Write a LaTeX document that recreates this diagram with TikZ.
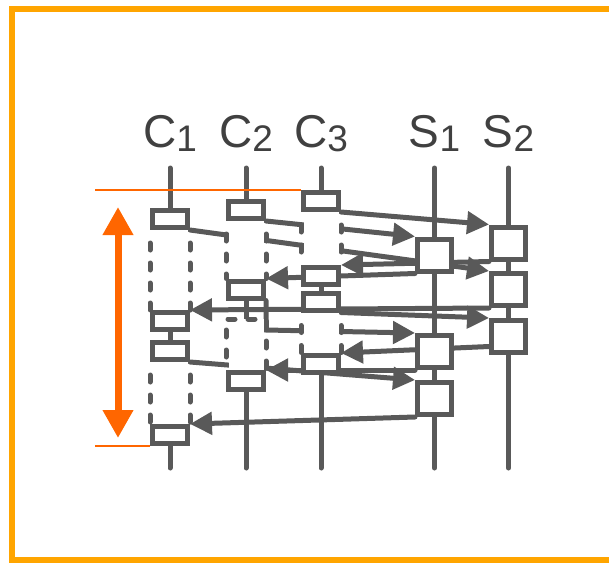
\documentclass[tikz,border=0pt]{standalone}
\usepackage{fontspec}
\setmainfont{Liberation Sans}
\usetikzlibrary{arrows.meta}

\pgfdeclarelayer{lines}
\pgfdeclarelayer{waits}
\pgfsetlayers{lines,waits,main}

\definecolor{linegray}{HTML}{595959}
\definecolor{textgray}{HTML}{404040}
\definecolor{spanorange}{HTML}{FF6600}
\definecolor{frameorange}{HTML}{FFA500}

% process name with a lowered index
\newcommand{\proclabel}[2]{#1\raisebox{-4.5pt}{\fontsize{37}{37}\selectfont #2}}

\tikzset{
  op/.style={draw=linegray, fill=white, line width=5pt, inner sep=0pt,
    minimum width=35pt, minimum height=17pt},
  srv/.style={op, minimum width=34pt, minimum height=32pt},
  life/.style={draw=linegray, line width=5pt, line cap=round},
  msg/.style={draw=linegray, line width=5pt, line cap=round,
    -{Triangle[length=22pt,width=22pt]}},
  waitedge/.style={draw=linegray, line width=5pt, line cap=round,
    dash pattern=on 7pt off 13pt, dash phase=7pt},
  proc/.style={text=textgray, font=\fontsize{46}{46}\selectfont,
    anchor=base, inner sep=0pt},
}

\begin{document}
\begin{tikzpicture}[x=1pt,y=-1pt]
\useasboundingbox (0,0) rectangle (609,562);

% process names
\node[proc] (C1) at (170,147) {\proclabel{C}{1}};
\node[proc] (C2) at (246,147) {\proclabel{C}{2}};
\node[proc] (C3) at (321,147) {\proclabel{C}{3}};
\node[proc] (S1) at (434.5,147) {\proclabel{S}{1}};
\node[proc] (S2) at (508.5,147) {\proclabel{S}{2}};

% operations on the clients
\node[op] (c1a) at (170,219) {};
\node[op] (c1b) at (170,321) {};
\node[op] (c1c) at (170,351) {};
\node[op] (c1d) at (170,435) {};
\node[op] (c2a) at (246,210) {};
\node[op] (c2b) at (246,289.5) {};
\node[op] (c2c) at (246,381) {};
\node[op] (c3a) at (321,201) {};
\node[op] (c3b) at (321,276) {};
\node[op] (c3c) at (321,301.5) {};
\node[op] (c3d) at (321,364) {};

% operations on the servers
\node[srv] (s1a) at (434.5,255) {};
\node[srv] (s1b) at (434.5,351.5) {};
\node[srv] (s1c) at (434.5,398.5) {};
\node[srv] (s2a) at (508.5,243) {};
\node[srv] (s2b) at (508.5,289.5) {};
\node[srv] (s2c) at (508.5,336.5) {};

\begin{pgfonlayer}{lines}
% frame
\draw[frameorange, line width=6pt] (625,9) -- (12,9) -- (12,559.5) -- (625,559.5);

% time lines
\draw[life] (170,168) -- (170,468);
\draw[life] (246,168) -- (246,468);
\draw[life] (321,168) -- (321,468);
\draw[life] (434.5,168) -- (434.5,468);
\draw[life] (508.5,168) -- (508.5,468);

% requests and replies
\draw[msg] (c1a.south east) -- (s2b.north west);
\draw[msg] (c2a.south east) -- (s1a.north west);
\draw[msg] (c3a.south east) -- (s2a.north west);
\draw[msg] (s2a.south west) -- (c3b.north east);
\draw[msg] (s1a.south west) -- (c2b.north east);
\draw[msg] (s2b.south west) -- (c1b.north east);
\draw[msg] (c3c.south east) -- (s2c.north west);
\draw[msg] (c2b.south east) -- ++(0,29.5) -- (s1b.north west);
\draw[msg] ([yshift=-10pt]s2c.west) -- (c3d.north east);
\draw[msg] (c1c.south east) -- (s1c.north west);
\draw[msg] (s1b.south west) -- (c2c.north east);
\draw[msg] (s1c.south west) -- (c1d.north east);

% span of the first client
\draw[spanorange, line width=2pt] (95,190) -- (301,190);
\draw[spanorange, line width=2pt] (95,446) -- (150,446);
\draw[spanorange, line width=7pt,
  {Triangle[length=28pt,width=29pt]}-{Triangle[length=28pt,width=29pt]}]
  (118,207) -- (118,438);
\end{pgfonlayer}

\begin{pgfonlayer}{waits}
% blocked intervals
\fill[white] ([xshift=2.5pt]c1a.south west) rectangle ([xshift=-2.5pt]c1b.north east);
\draw[waitedge] (c1a.south west) -- (c1b.north west);
\draw[waitedge] (c1a.south east) -- (c1b.north east);
\fill[white] ([xshift=2.5pt]c1c.south west) rectangle ([xshift=-2.5pt]c1d.north east);
\draw[waitedge] (c1c.south west) -- (c1d.north west);
\draw[waitedge] (c1c.south east) -- (c1d.north east);

\fill[white] ([xshift=2.5pt]c2a.south west) rectangle ([xshift=-2.5pt]c2b.north east);
\draw[waitedge] (c2a.south west) -- (c2b.north west);
\draw[waitedge] (c2a.south east) -- (c2b.north east);
\fill[white] ([xshift=2.5pt]c2c.north west |- 0,319) rectangle ([xshift=-2.5pt]c2c.north east);
\draw[waitedge] (c2c.north west) -- (c2c.north west |- 0,319)
  -- (c2c.north east |- 0,319) -- (c2c.north east);

\fill[white] ([xshift=2.5pt]c3a.south west) rectangle ([xshift=-2.5pt]c3b.north east);
\draw[waitedge] (c3a.south west) -- (c3b.north west);
\draw[waitedge] (c3a.south east) -- (c3b.north east);
\fill[white] ([xshift=2.5pt]c3c.south west) rectangle ([xshift=-2.5pt]c3d.north east);
\draw[waitedge] (c3c.south west) -- (c3d.north west);
\draw[waitedge] (c3c.south east) -- (c3d.north east);
\end{pgfonlayer}
\end{tikzpicture}
\end{document}
